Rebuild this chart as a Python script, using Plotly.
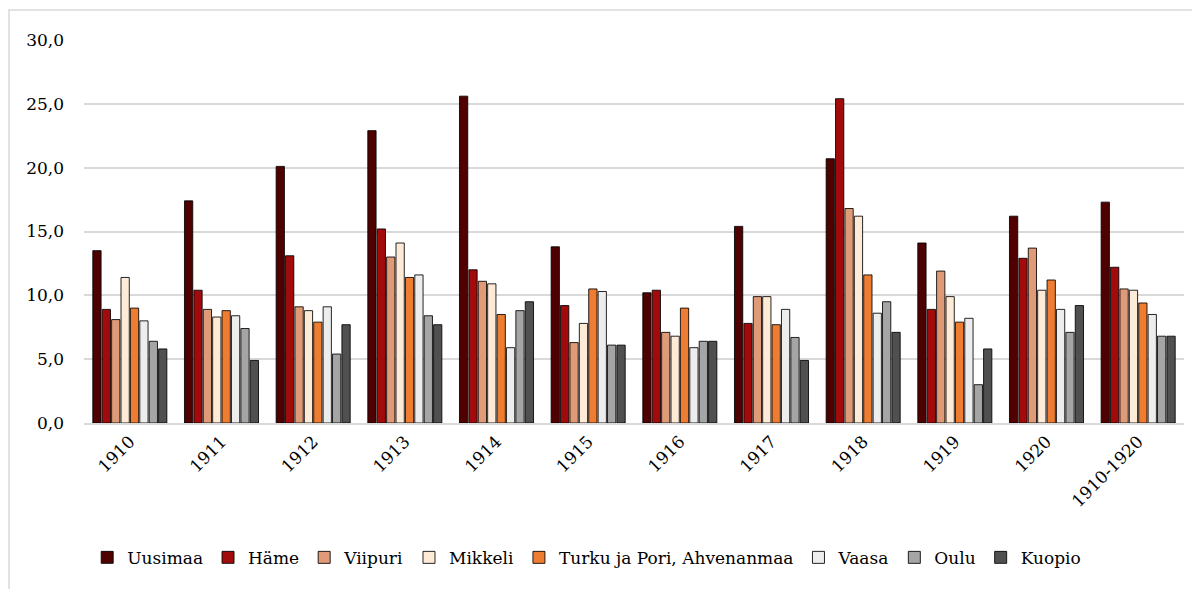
import plotly.graph_objects as go

categories = ["1910", "1911", "1912", "1913", "1914", "1915", "1916", "1917", "1918", "1919", "1920", "1910-1920"]

uusimaa = [13.5, 17.4, 20.1, 22.9, 25.6, 13.8, 10.2, 15.4, 20.7, 14.1, 16.2, 17.3]
hame    = [8.9, 10.4, 13.1, 15.2, 12.0, 9.2, 10.4, 7.8, 25.4, 8.9, 12.9, 12.2]
viipuri = [8.1, 8.9, 9.1, 13.0, 11.1, 6.3, 7.1, 9.9, 16.8, 11.9, 13.7, 10.5]
mikkeli = [11.4, 8.3, 8.8, 14.1, 10.9, 7.8, 6.8, 9.9, 16.2, 9.9, 10.4, 10.4]
turku   = [9.0, 8.8, 7.9, 11.4, 8.5, 10.5, 9.0, 7.7, 11.6, 7.9, 11.2, 9.4]
vaasa   = [8.0, 8.4, 9.1, 11.6, 5.9, 10.3, 5.9, 8.9, 8.6, 8.2, 8.9, 8.5]
oulu    = [6.4, 7.4, 5.4, 8.4, 8.8, 6.1, 6.4, 6.7, 9.5, 3.0, 7.1, 6.8]
kuopio  = [5.8, 4.9, 7.7, 7.7, 9.5, 6.1, 6.4, 4.9, 7.1, 5.8, 9.2, 6.8]

series_names = ["Uusimaa", "Häme", "Viipuri", "Mikkeli", "Turku ja Pori, Ahvenanmaa", "Vaasa", "Oulu", "Kuopio"]
series_values = [uusimaa, hame, viipuri, mikkeli, turku, vaasa, oulu, kuopio]
series_colors = ["#4f0000", "#a10b0b", "#df9a78", "#feebd7", "#ee7d31", "#ededed", "#a5a5a5", "#505050"]

FONT = "DejaVu Serif, Palatino Linotype, Book Antiqua, serif"

fig = go.Figure()
for name, vals, col in zip(series_names, series_values, series_colors):
    fig.add_trace(go.Bar(
        x=categories, y=vals, name=name,
        marker=dict(color=col, line=dict(color="rgba(0,0,0,0.85)", width=1)),
    ))

# page body has an 8px margin, so margins are shifted by 8px
fig.update_layout(
    width=1200, height=589,
    barmode="group", bargap=0.18, bargroupgap=0.12,
    plot_bgcolor="white", paper_bgcolor="white",
    margin=dict(l=76, r=24, t=32, b=174, autoexpand=False),
    separators=",.",
    font=dict(family=FONT, size=17, color="#000000"),
    showlegend=True,
    legend=dict(orientation="h", x=0.457, xanchor="center", y=-0.352, yanchor="middle",
                font=dict(family=FONT, size=17), itemwidth=30, tracegroupgap=0,
                bgcolor="rgba(0,0,0,0)"),
    xaxis=dict(tickangle=-45, showgrid=False, showline=True, linecolor="#d9d9d9", linewidth=2,
               ticks="", tickfont=dict(family=FONT, size=17)),
    yaxis=dict(range=[0, 30], dtick=5, tickformat=".1f", showgrid=True, gridcolor="#d9d9d9",
               gridwidth=2, zeroline=False, showline=False, ticks="",
               tickfont=dict(family=FONT, size=17), ticklabelstandoff=19),
    shapes=[dict(type="rect", xref="paper", yref="paper",
                 x0=(9 - 84) / 1100, x1=1.05, y0=-0.6, y1=(423 - 10) / 383,
                 line=dict(color="#d9d9d9", width=1.5), fillcolor="rgba(0,0,0,0)", layer="below")],
)

fig.write_html("out.html")
